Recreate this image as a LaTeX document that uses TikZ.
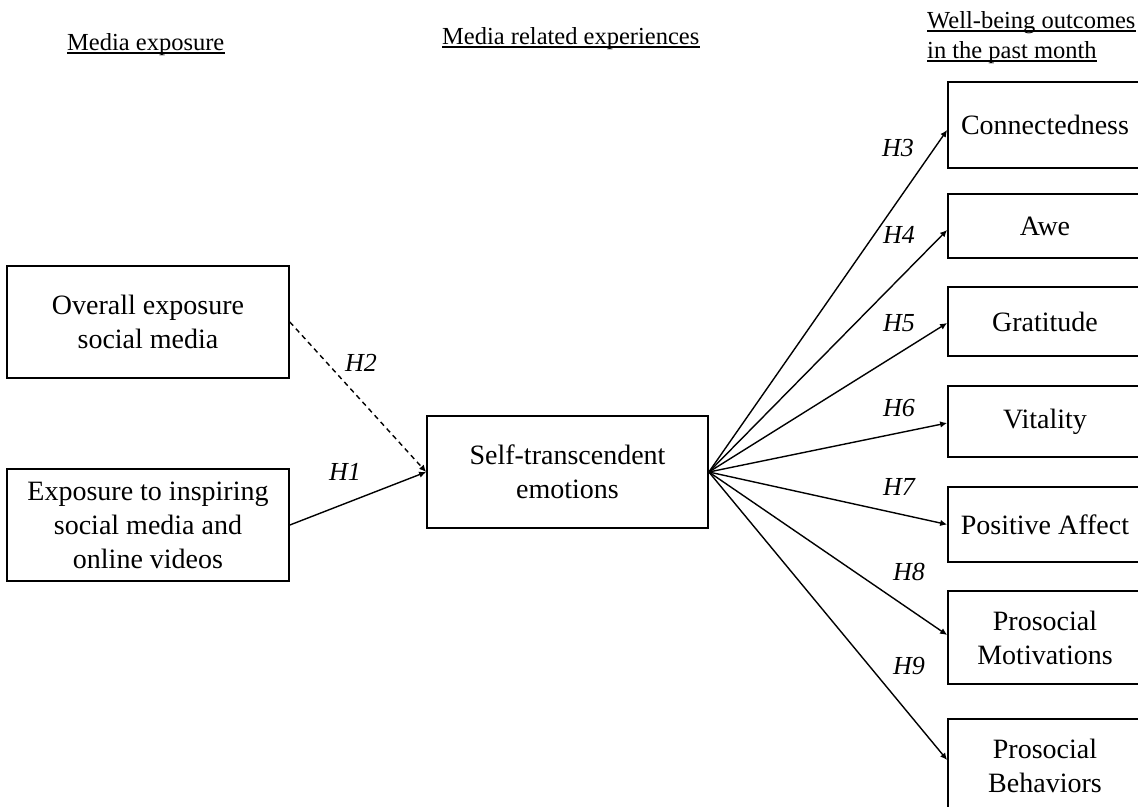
\documentclass[tikz,border=0pt]{standalone}
\usepackage{fontspec}
\setmainfont{Liberation Serif}
\usetikzlibrary{arrows.meta}
\begin{document}
\begin{tikzpicture}[x=1pt,y=-1pt,
  box/.style={draw, line width=1.7pt, inner sep=0pt, align=center, font=\fontsize{28}{34}\selectfont},
  rbox/.style={box, minimum width=194pt},
  hdr/.style={inner sep=0pt, anchor=base west, font=\fontsize{24.5}{29}\selectfont},
  uline/.style={line width=1.3pt},
  hyp/.style={inner sep=0pt, font=\fontsize{26}{30}\selectfont\itshape},
  arr/.style={line width=1.4pt, -{Latex[length=7pt,width=6.5pt]}},
  dasharr/.style={arr, dash pattern=on 5pt off 4pt},
]
\useasboundingbox (0,0) rectangle (1138,806);
\fill[white] (0,0) rectangle (1138,806);
\clip (0,0) rectangle (1138,806);

% headers
\node[hdr] (h1) at (67,50) {Media exposure};
\node[hdr] (h2) at (442,44) {Media related experiences};
\node[hdr] (h3) at (927,28) {Well-being outcomes};
\node[hdr] (h4) at (927,58) {in the past month};
\foreach \h in {h1,h2,h3,h4}
  \draw[uline] ([yshift=-3pt]\h.base west) -- ([yshift=-3pt]\h.base east);

% left and middle boxes
\node[box, minimum width=282pt, minimum height=112pt] (ove) at (148,322) {Overall exposure\\social media};
\node[box, minimum width=282pt, minimum height=112pt] (ins) at (148,525) {Exposure to inspiring\\social media and\\online videos};
\node[box, minimum width=281pt, minimum height=112pt] (ste) at (567.5,472) {Self-transcendent\\emotions};

% right boxes
\node[rbox, minimum height=86pt] (con) at (1045,125) {Connectedness};
\node[rbox, minimum height=64pt] (awe) at (1045,226) {Awe};
\node[rbox, minimum height=69pt] (gra) at (1045,321.5) {Gratitude};
\node[rbox, minimum height=71pt] (vit) at (1045,421.5) {Vitality};
\node[rbox, minimum height=75pt] (pa) at (1045,524.5) {Positive Affect};
\node[rbox, minimum height=93pt] (pm) at (1045,637.5) {Prosocial\\Motivations};
\node[rbox, minimum height=94pt] (pb) at (1045,766) {Prosocial\\Behaviors};

% connectors
\draw[dasharr] (ove.east) -- (ste.west);
\draw[arr] (ins.east) -- (ste.west);
\draw[arr] (ste.east) -- ([yshift=-5pt]con.west);
\draw[arr] (ste.east) -- ([yshift=-4pt]awe.west);
\draw[arr] (ste.east) -- ([yshift=-1.5pt]gra.west);
\draw[arr] (ste.east) -- ([yshift=-1.5pt]vit.west);
\draw[arr] (ste.east) -- (pa.west);
\draw[arr] (ste.east) -- ([yshift=2.5pt]pm.west);
\draw[arr] (ste.east) -- ([yshift=6pt]pb.west);

% hypothesis labels
\node[hyp] (l1) at (345,472) {H1};
\node[hyp] (l2) at (361,363) {H2};
\node[hyp] (l3) at (898,148) {H3};
\node[hyp] (l4) at (899,235) {H4};
\node[hyp] (l5) at (899,323) {H5};
\node[hyp] (l6) at (899,408) {H6};
\node[hyp] (l7) at (899,487) {H7};
\node[hyp] (l8) at (909,572) {H8};
\node[hyp] (l9) at (909,666) {H9};
\end{tikzpicture}
\end{document}
